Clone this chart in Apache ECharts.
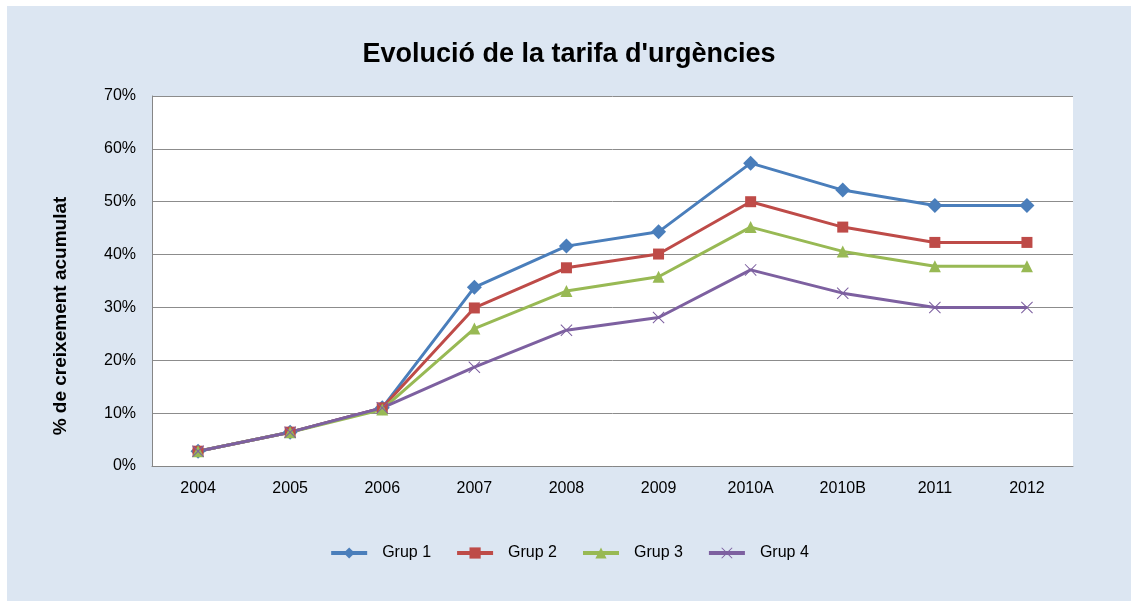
<!DOCTYPE html>
<html>
<head>
<meta charset="utf-8">
<title>Evolució de la tarifa d'urgències</title>
<script src="https://cdn.jsdelivr.net/npm/echarts@6/dist/echarts.min.js"></script>
<style>
  html, body { margin: 0; padding: 0; background: #fff; }
  #main { position: absolute; left: 7px; top: 6px; width: 1124px; height: 595px; }
</style>
</head>
<body>
<div id="main"></div>
<script>
// dades llegides del gràfic (% de creixement acumulat)
var categories = ['2004', '2005', '2006', '2007', '2008', '2009', '2010A', '2010B', '2011', '2012'];
var grup1 = [2.8, 6.4, 11.0, 33.8, 41.6, 44.3, 57.3, 52.2, 49.3, 49.3];
var grup2 = [2.8, 6.4, 11.0, 29.9, 37.5, 40.1, 50.0, 45.2, 42.3, 42.3];
var grup3 = [2.8, 6.4, 10.7, 26.0, 33.1, 35.8, 45.2, 40.6, 37.8, 37.8];
var grup4 = [2.8, 6.4, 11.0, 18.7, 25.7, 28.1, 37.1, 32.7, 30.0, 30.0];
var seriesNames = ['Grup 1', 'Grup 2', 'Grup 3', 'Grup 4'];

var font = "'Liberation Sans', Arial, sans-serif";
// creu (x) de marcador, com a Excel
var crossPath = 'path://M0,0.6 L0.6,0 L5,4.4 L9.4,0 L10,0.6 L5.6,5 L10,9.4 L9.4,10 L5,5.6 L0.6,10 L0,9.4 L4.4,5 Z';

var myChart = echarts.init(document.getElementById('main'));

function makeSeries(name, data, color, symbol, size) {
  return {
    name: name,
    type: 'line',
    data: data,
    symbol: symbol,
    symbolSize: size,
    showAllSymbol: true,
    lineStyle: { color: color, width: 3 },
    itemStyle: { color: color, borderWidth: 0 },
    emphasis: { disabled: true }
  };
}

var option = {
  backgroundColor: '#dce6f2',
  animation: false,
  textStyle: { fontFamily: font },
  title: {
    text: "Evolució de la tarifa d'urgències",
    left: 'center',
    top: 30,
    textStyle: { fontSize: 27, fontWeight: 'bold', color: '#000', fontFamily: font }
  },
  legend: {
    data: seriesNames,
    left: 'center',
    top: 534,
    itemWidth: 36,
    itemHeight: 14,
    itemGap: 24,
    lineStyle: { width: 4 },
    textStyle: { fontSize: 16, color: '#000', fontFamily: font, padding: [0, 0, 0, 10] }
  },
  grid: {
    left: 145,
    top: 90,
    width: 921,
    height: 370,
    show: true,
    backgroundColor: '#fff',
    borderWidth: 0
  },
  xAxis: {
    type: 'category',
    data: categories,
    boundaryGap: true,
    axisLine: { lineStyle: { color: '#868686', width: 1 } },
    axisTick: { show: false },
    axisLabel: { fontSize: 16, color: '#000', margin: 15, fontFamily: font }
  },
  yAxis: {
    type: 'value',
    min: 0,
    max: 70,
    interval: 10,
    name: '% de creixement acumulat',
    nameLocation: 'middle',
    nameRotate: 90,
    nameGap: 82,
    nameTextStyle: { fontSize: 19, fontWeight: 'bold', color: '#000', fontFamily: font, padding: [0, 70, 0, 0] },
    axisLine: { show: true, lineStyle: { color: '#868686', width: 1 } },
    axisTick: { show: false },
    axisLabel: { fontSize: 16, color: '#000', margin: 16, formatter: '{value}%', fontFamily: font },
    splitLine: { lineStyle: { color: '#8c8c8c', width: 1 } }
  },
  series: [
    makeSeries('Grup 1', grup1, '#4a7ebb', 'diamond', 15),
    makeSeries('Grup 2', grup2, '#be4b48', 'rect', 11),
    makeSeries('Grup 3', grup3, '#98b954', 'triangle', 12),
    makeSeries('Grup 4', grup4, '#7d60a0', crossPath, 12)
  ]
};

myChart.setOption(option);
window.addEventListener('resize', function () {
  myChart.resize();
});
</script>
</body>
</html>
